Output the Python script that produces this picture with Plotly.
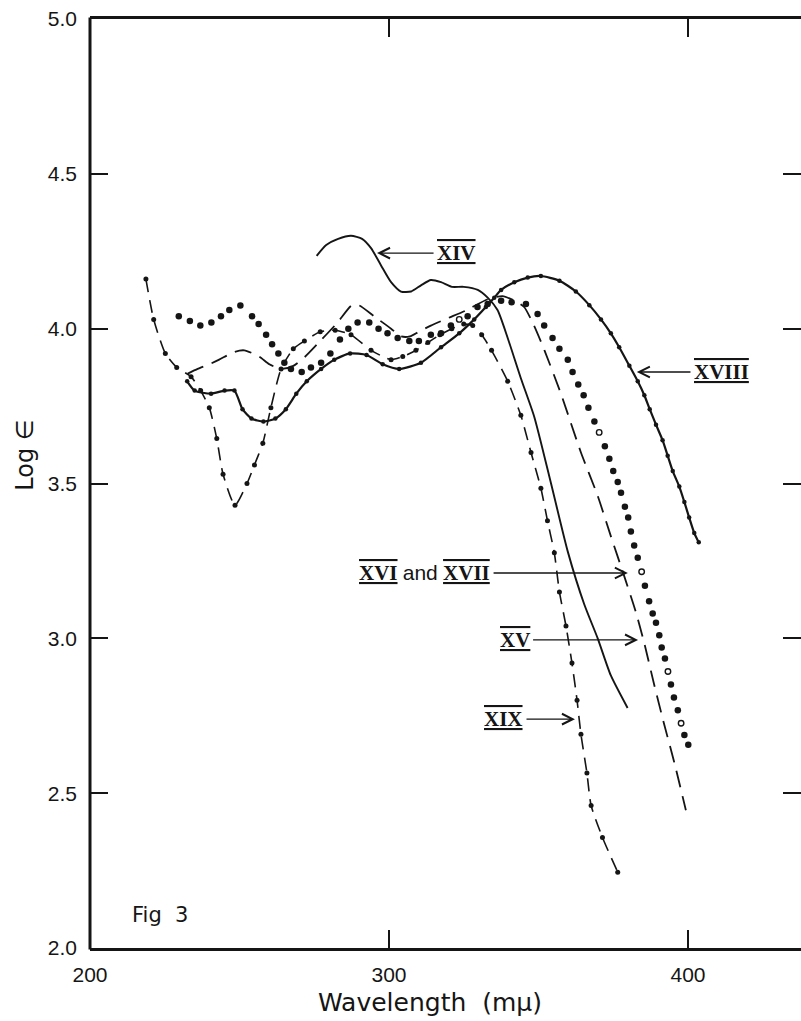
import plotly.graph_objects as go

# ---------------- data (wavelength in m-mu, log epsilon) ----------------
xiv_wl = [275.8, 279, 283, 287.3, 291, 294, 297.3, 300.7, 304, 307.4, 310.7, 314, 317.4, 321,
          325, 329.7, 333, 336.3, 339.7, 344.1, 348.6, 354.2, 359.8, 365.3, 369.8, 374.2, 379.8]
xiv_log = [4.235, 4.27, 4.29, 4.30, 4.29, 4.26, 4.205, 4.15, 4.12, 4.12, 4.14, 4.157, 4.15, 4.135,
           4.135, 4.125, 4.10, 4.06, 3.97, 3.84, 3.715, 3.50, 3.28, 3.11, 3.00, 2.88, 2.775]

xv_wl = [232.7, 236, 239.9, 243.2, 248.3, 251.6, 256.6, 260, 264, 268, 272, 277, 282.8, 287.5,
         290, 295, 300.7, 304, 307, 310, 314, 320, 326, 333, 338, 342, 345.2, 348.5, 352, 357.5,
         364.2, 369.8, 374.2, 378.7, 382.4, 385.5, 388.7, 392.1, 395.4, 399.3]
xv_log = [3.855, 3.87, 3.885, 3.90, 3.925, 3.93, 3.91, 3.885, 3.87, 3.88, 3.91, 3.96, 4.02, 4.075,
          4.075, 4.04, 4.0, 3.975, 3.975, 3.99, 4.01, 4.035, 4.06, 4.095, 4.105, 4.09, 4.07, 4.01,
          3.93, 3.79, 3.60, 3.46, 3.33, 3.20, 3.09, 2.98, 2.85, 2.72, 2.60, 2.445]

xvi_wl = [229.7, 233.4, 236.9, 240.6, 243.8, 246.6, 250.3, 254.2, 256.4, 258.9, 260.9, 263, 265,
          267.2, 270.8, 273.9, 277.3, 280.4, 283.6, 286.4, 289.5, 293.4, 296.5, 299.5, 302.9,
          306.8, 310, 314, 317.4, 320.7, 326.3, 329.6, 333, 337.5, 341, 345.8, 349.7, 351.9,
          354.7, 357, 359.8, 361.4, 363.3, 365.1, 366.7, 368.7, 372.2, 373.7, 375, 376.5, 377.6,
          378.9, 380, 380.9, 382, 383.2, 385.6, 387, 388.2, 389.3, 390.4, 391.2, 392.3, 394.3,
          395.3, 396.6, 398.8, 400.1]
xvi_log = [4.04, 4.025, 4.01, 4.02, 4.04, 4.06, 4.075, 4.04, 4.015, 3.98, 3.95, 3.92, 3.89,
           3.87, 3.86, 3.875, 3.89, 3.92, 3.965, 4.0, 4.02, 4.02, 4.0, 3.985, 3.97,
           3.96, 3.96, 3.98, 3.985, 4.01, 4.04, 4.07, 4.08, 4.09, 4.085, 4.08, 4.047, 4.01,
           3.97, 3.935, 3.90, 3.86, 3.82, 3.785, 3.745, 3.70, 3.62, 3.58, 3.54, 3.505, 3.47,
           3.425, 3.39, 3.345, 3.30, 3.26, 3.17, 3.12, 3.08, 3.05, 3.01, 2.97, 2.935, 2.851,
           2.809, 2.768, 2.688, 2.656]

xvii_wl = [323.5, 370.3, 384.5, 393.3, 397.7]
xvii_log = [4.03, 3.665, 3.215, 2.893, 2.726]

xviii_wl = [232.5, 235, 240.5, 245, 248.3, 251, 254, 258, 262, 265.5, 269, 272.5, 277.3, 281.7,
            287, 292.5, 297.9, 303.4, 310.7, 317.4, 323.5, 328.5, 332.4, 335.2, 337.5, 341.9,
            346.4, 350.8, 357, 362.5, 367, 370.9, 374.2, 377, 380.4, 383.2, 385.4, 387.2, 389.3,
            391.5, 393.2, 394.9, 397.1, 398.8, 400.4, 402.1, 403.6]
xviii_log = [3.83, 3.80, 3.79, 3.80, 3.80, 3.74, 3.71, 3.70, 3.71, 3.74, 3.79, 3.83, 3.87, 3.90,
             3.92, 3.915, 3.885, 3.87, 3.89, 3.94, 3.985, 4.03, 4.07, 4.10, 4.125, 4.15,
             4.165, 4.17, 4.155, 4.12, 4.076, 4.03, 3.985, 3.94, 3.88, 3.83, 3.785, 3.74, 3.69,
             3.64, 3.59, 3.54, 3.49, 3.44, 3.39, 3.34, 3.31]

xix_wl = [218.7, 221.3, 225.2, 229, 233.8, 237, 239.9, 242.4, 244.5, 248.5, 252.5, 255, 257.8,
          260.5, 263.9, 268, 271.7, 277, 282, 287.3, 294, 300.7, 304.6, 309, 313, 317, 321, 325,
          328, 331, 334.3, 339.7, 344.1, 347.5, 350.8, 353, 355.3, 357, 359.2, 361.2, 362.9,
          364.2, 366.2, 367.6, 371.4, 376.5]
xix_log = [4.16, 4.03, 3.92, 3.875, 3.845, 3.80, 3.745, 3.645, 3.53, 3.43, 3.50, 3.56, 3.63,
           3.745, 3.87, 3.935, 3.96, 3.99, 3.995, 3.98, 3.93, 3.90, 3.91, 3.93, 3.955, 3.98, 4.0,
           4.015, 4.01, 3.98, 3.93, 3.83, 3.72, 3.60, 3.485, 3.38, 3.276, 3.15, 3.04, 2.92, 2.80,
           2.69, 2.565, 2.46, 2.357, 2.245]

y_ticks = [2.0, 2.5, 3.0, 3.5, 4.0, 4.5, 5.0]
y_tick_text = ["2.0", "2.5", "3.0", "3.5", "4.0", "4.5", "5.0"]
x_ticks = [200, 300, 400]
x_tick_text = ["200", "300", "400"]

# ---------------- figure ----------------
ink = "#151515"
fig = go.Figure()

fig.add_trace(go.Scatter(x=xix_wl, y=xix_log, mode="lines+markers", name="XIX",
                         line=dict(color=ink, width=1.6, dash="13px,8px", shape="spline", smoothing=0.6),
                         marker=dict(size=5, color=ink)))
fig.add_trace(go.Scatter(x=xv_wl, y=xv_log, mode="lines", name="XV",
                         line=dict(color=ink, width=1.8, dash="17px,9px", shape="spline", smoothing=0.6)))
fig.add_trace(go.Scatter(x=xiv_wl, y=xiv_log, mode="lines", name="XIV",
                         line=dict(color=ink, width=1.9, shape="spline", smoothing=0.6)))
fig.add_trace(go.Scatter(x=xviii_wl, y=xviii_log, mode="lines+markers", name="XVIII",
                         line=dict(color=ink, width=2.2, shape="spline", smoothing=0.6),
                         marker=dict(size=4.5, color=ink)))
fig.add_trace(go.Scatter(x=xvi_wl, y=xvi_log, mode="markers", name="XVI",
                         marker=dict(size=6.5, color=ink)))
fig.add_trace(go.Scatter(x=xvii_wl, y=xvii_log, mode="markers", name="XVII",
                         marker=dict(size=5.5, color="white", symbol="circle",
                                     line=dict(color=ink, width=1.4))))

tick_font = dict(family="Liberation Sans, Arial, sans-serif", size=21, color=ink)
fig.update_layout(
    width=801, height=1021,
    margin=dict(l=90, r=0, t=19, b=73),
    paper_bgcolor="white", plot_bgcolor="white",
    showlegend=False,
)
fig.update_xaxes(range=[200, 437.8], tickvals=x_ticks, ticktext=x_tick_text,
                 ticks="inside", ticklen=18, tickwidth=2, tickcolor=ink,
                 showline=True, linewidth=3, linecolor=ink, mirror="ticks",
                 showgrid=False, zeroline=False, tickfont=tick_font, ticklabelstandoff=6)
fig.update_yaxes(range=[2, 5], tickvals=y_ticks, ticktext=y_tick_text,
                 ticks="inside", ticklen=18, tickwidth=2, tickcolor=ink,
                 showline=False, mirror="ticks",
                 showgrid=False, zeroline=False, tickfont=tick_font, ticklabelstandoff=12)
# left frame line (the right edge of the frame lies outside the picture)
fig.add_shape(type="line", xref="paper", yref="paper", x0=0, x1=0, y0=-0.0016, y1=1.0016,
              line=dict(color=ink, width=3))

roman_font = dict(family="Liberation Serif, Times New Roman, serif", size=21, color=ink,
                  weight="bold")
bar = '<span style="text-decoration:overline"><u>{}</u></span>'
and_txt = ('<span style="font-family:Liberation Sans, Arial, sans-serif;font-weight:normal">'
           'and</span>')

labels = [
    (bar.format("XIV"), 322.6, 4.244, 296.0),
    (bar.format("XVIII"), 411.2, 3.86, 382.9),
    (bar.format("XVI") + " " + and_txt + " " + bar.format("XVII"), 311.9, 3.211, 379.9),
    (bar.format("XV"), 342.0, 2.995, 383.3),
    (bar.format("XIX"), 338.3, 2.739, 362.2),
]
for txt, tx, ty, tip in labels:
    fig.add_annotation(x=tip, y=ty, ax=tx, ay=ty, xref="x", yref="y", axref="x", ayref="y",
                       text=txt, font=roman_font, showarrow=True, arrowhead=5, arrowsize=1.5,
                       arrowwidth=1.4, arrowcolor=ink, standoff=0, startstandoff=2)

fig.add_annotation(x=213.4, y=2.107, xref="x", yref="y", text="Fig  3", showarrow=False,
                   xanchor="left", yanchor="middle",
                   font=dict(family="DejaVu Sans, sans-serif", size=21, color=ink))
fig.add_annotation(x=0.478, y=-0.059, xref="paper", yref="paper", text="Wavelength  (mμ)",
                   showarrow=False, xanchor="center", yanchor="middle",
                   font=dict(family="DejaVu Sans, sans-serif", size=25, color=ink))
fig.add_annotation(x=-0.0914, y=0.53, xref="paper", yref="paper", text="Log ∈", textangle=-90,
                   showarrow=False, xanchor="center", yanchor="middle",
                   font=dict(family="DejaVu Sans, sans-serif", size=24, color=ink))

fig.write_html("out.html", config={"displayModeBar": False})
